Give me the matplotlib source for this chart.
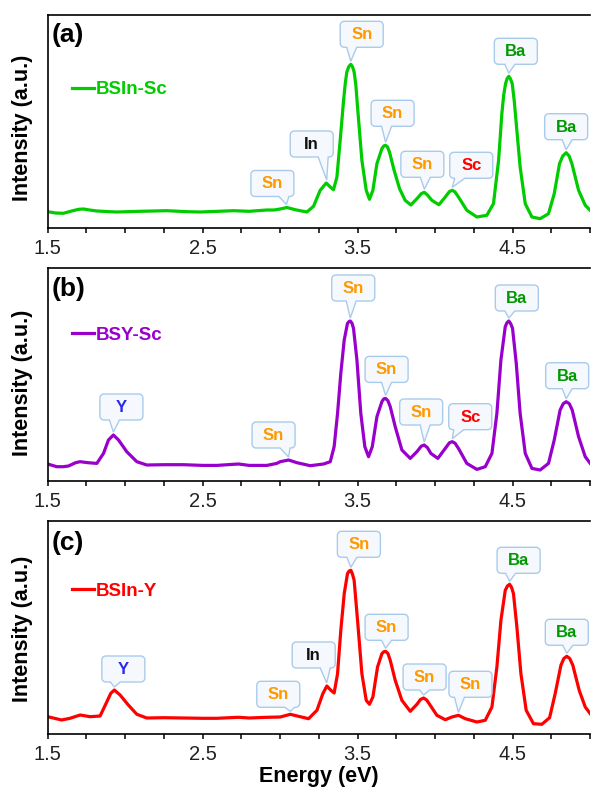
import numpy as np
import matplotlib
matplotlib.use("Agg")
import matplotlib.pyplot as plt
from matplotlib.patches import Polygon
from matplotlib.transforms import IdentityTransform
from matplotlib.ticker import MultipleLocator

plt.rcParams['font.family'] = ['Liberation Sans', 'DejaVu Sans']

# ---------------- data ----------------
energy_a = [1.500, 1.550, 1.601, 1.655, 1.700, 1.731, 1.770, 1.817, 1.900, 1.946, 2.100, 2.269, 2.400,
            2.484, 2.600, 2.699, 2.800, 2.914, 2.960, 3.000, 3.043, 3.097, 3.172, 3.215, 3.258, 3.297,
            3.323, 3.344, 3.366, 3.387, 3.409, 3.420, 3.430, 3.443, 3.456, 3.467, 3.477, 3.488, 3.499,
            3.527, 3.555, 3.576, 3.598, 3.624, 3.656, 3.668, 3.680, 3.692, 3.705, 3.735, 3.770, 3.806,
            3.843, 3.882, 3.910, 3.929, 3.950, 3.978, 4.024, 4.065, 4.092, 4.110, 4.128, 4.150, 4.204,
            4.269, 4.333, 4.376, 4.409, 4.430, 4.442, 4.454, 4.464, 4.475, 4.486, 4.497, 4.510, 4.523,
            4.548, 4.581, 4.624, 4.677, 4.731, 4.768, 4.802, 4.823, 4.845, 4.864, 4.882, 4.925, 4.968,
            5.000]
intensity_a = [16.3, 15.0, 14.7, 17.0, 18.7, 19.0, 18.0, 17.0, 16.3, 16.0, 16.7, 17.3, 16.3,
               16.0, 16.7, 17.3, 16.7, 18.0, 18.0, 19.0, 20.5, 18.3, 16.0, 21.7, 37.7, 45.0,
               41.0, 38.3, 51.0, 87.7, 127.7, 145.0, 156.0, 161.5, 163.7, 161.0, 156.0, 143.0, 121.0,
               67.7, 37.7, 28.7, 37.7, 64.3, 79.3, 82.0, 82.7, 81.0, 76.0, 57.7, 39.3, 27.7,
               23.0, 29.3, 34.3, 35.7, 33.0, 27.7, 23.3, 31.0, 36.5, 37.7, 36.0, 31.0, 17.7,
               11.0, 12.7, 24.3, 67.7, 114.3, 133.0, 144.3, 149.5, 151.7, 149.0, 144.3, 127.0, 104.3,
               61.0, 24.3, 11.0, 9.3, 14.3, 34.3, 64.3, 72.0, 75.3, 72.0, 64.3, 37.7, 22.7,
               17.7]

energy_b = [1.500, 1.558, 1.600, 1.634, 1.680, 1.709, 1.760, 1.817, 1.860, 1.892, 1.924, 1.957, 2.010,
            2.075, 2.139, 2.250, 2.376, 2.500, 2.591, 2.731, 2.800, 2.914, 2.978, 3.000, 3.054, 3.108,
            3.194, 3.280, 3.323, 3.348, 3.370, 3.391, 3.413, 3.434, 3.443, 3.452, 3.463, 3.473, 3.495,
            3.520, 3.546, 3.570, 3.594, 3.624, 3.656, 3.668, 3.680, 3.695, 3.710, 3.742, 3.785, 3.839,
            3.882, 3.910, 3.929, 3.950, 3.972, 4.017, 4.065, 4.092, 4.110, 4.128, 4.150, 4.204, 4.269,
            4.323, 4.366, 4.398, 4.424, 4.452, 4.463, 4.475, 4.487, 4.499, 4.523, 4.548, 4.581, 4.624,
            4.677, 4.731, 4.768, 4.806, 4.826, 4.845, 4.865, 4.884, 4.925, 4.968, 5.000]
intensity_b = [16.7, 14.0, 14.0, 14.7, 18.0, 19.0, 18.0, 17.3, 27.3, 40.7, 45.7, 40.7, 29.0,
               19.0, 15.7, 16.0, 16.0, 15.3, 15.3, 16.7, 15.3, 15.3, 17.3, 19.0, 20.7, 18.0,
               15.0, 16.7, 19.0, 34.0, 67.3, 107.3, 140.7, 157.3, 159.0, 159.7, 157.5, 152.3, 120.7,
               67.3, 34.0, 24.0, 34.0, 64.0, 79.0, 81.8, 82.3, 80.0, 74.0, 54.0, 30.7, 22.3,
               29.0, 34.5, 35.7, 33.0, 27.3, 22.3, 32.3, 38.0, 39.0, 37.5, 32.3, 17.3, 11.3,
               14.0, 27.3, 67.3, 120.7, 154.0, 158.0, 159.7, 157.0, 152.3, 117.3, 67.3, 27.3, 12.3,
               10.7, 17.3, 40.7, 70.7, 77.0, 79.0, 77.0, 70.7, 44.0, 24.0, 17.3]

energy_c = [1.500, 1.590, 1.644, 1.709, 1.774, 1.838, 1.877, 1.907, 1.930, 1.967, 2.020, 2.075, 2.139,
            2.250, 2.376, 2.500, 2.591, 2.731, 2.800, 2.914, 3.000, 3.065, 3.118, 3.183, 3.237, 3.275,
            3.301, 3.327, 3.348, 3.370, 3.391, 3.413, 3.434, 3.445, 3.456, 3.466, 3.477, 3.499, 3.527,
            3.555, 3.576, 3.598, 3.628, 3.656, 3.668, 3.680, 3.695, 3.710, 3.742, 3.785, 3.839, 3.882,
            3.905, 3.925, 3.945, 3.968, 4.011, 4.065, 4.108, 4.150, 4.194, 4.269, 4.323, 4.366, 4.398,
            4.424, 4.452, 4.466, 4.480, 4.493, 4.505, 4.527, 4.553, 4.587, 4.634, 4.688, 4.738, 4.774,
            4.811, 4.830, 4.849, 4.868, 4.888, 4.929, 4.968, 5.000]
intensity_c = [17.3, 14.0, 15.7, 19.0, 17.3, 18.0, 30.7, 40.7, 44.0, 39.0, 29.0, 19.7, 16.0,
               16.3, 16.0, 15.7, 15.7, 16.7, 16.0, 16.7, 17.0, 19.7, 17.7, 15.3, 23.7, 40.3,
               48.0, 43.7, 41.0, 60.3, 103.7, 140.3, 160.3, 163.0, 163.7, 160.0, 153.7, 113.7, 60.3,
               33.7, 29.7, 37.0, 67.0, 80.3, 82.2, 82.7, 80.5, 73.7, 53.7, 33.7, 22.7, 29.7,
               34.5, 36.0, 34.0, 28.7, 18.7, 14.3, 17.0, 18.7, 15.3, 12.0, 13.7, 27.0, 67.0,
               113.7, 143.7, 148.0, 149.7, 146.5, 140.3, 107.0, 60.3, 23.7, 10.3, 9.7, 16.3, 40.3,
               68.7, 75.5, 77.7, 75.5, 68.7, 43.7, 27.0, 20.3]

series_names = ["BSIn-Sc", "BSY-Sc", "BSIn-Y"]
panel_tags = ["(a)", "(b)", "(c)"]

peak_energy_a = [3.04, 3.30, 3.455, 3.68, 3.93, 4.11, 4.475, 4.845]
peak_label_a = ["Sn", "In", "Sn", "Sn", "Sn", "Sc", "Ba", "Ba"]
peak_energy_b = [1.924, 3.054, 3.452, 3.68, 3.929, 4.11, 4.475, 4.845]
peak_label_b = ["Y", "Sn", "Sn", "Sn", "Sn", "Sc", "Ba", "Ba"]
peak_energy_c = [1.93, 3.065, 3.30, 3.456, 3.68, 3.925, 4.15, 4.48, 4.849]
peak_label_c = ["Y", "Sn", "In", "Sn", "Sn", "Sn", "Sn", "Ba", "Ba"]

xtick_values = [1.5, 2.5, 3.5, 4.5]

# ---------------- styles / layout ----------------
line_colors = ["#00cc00", "#9900cc", "#ff0000"]
element_colors = {"Sn": "#ff9900", "In": "#111111", "Sc": "#ff0000", "Ba": "#009a00", "Y": "#2a2aee"}
# callout box offsets (pixels, relative to peak point)
box_offsets = [
    [(-14, 24), (-15, 39), (11, 30), (7, 32), (-2, 28), (19, 25), (7, 25), (0, 26)],
    [(8, 28), (-15, 25), (3, 33), (1, 29), (-3, 33), (18, 25), (8, 23), (1, 26)],
    [(9, 21), (-12, 20), (-13, 31), (8, 26), (1, 24), (1, 21), (12, 31), (9, 24), (0, 24)],
]
W, H = 591, 789
panel_bottom_px = [228, 480.7, 734]
panel_h_px = 213
left_px, right_px = 47.7, 590.2
legend_y = [0.65, 0.683, 0.67]
tag_y = [0.906, 0.90, 0.897]
ylabel_y = [0.472, 0.46, 0.495]

energies = [energy_a, energy_b, energy_c]
intensities = [intensity_a, intensity_b, intensity_c]
peak_energies = [peak_energy_a, peak_energy_b, peak_energy_c]
peak_labels = [peak_label_a, peak_label_b, peak_label_c]

fig = plt.figure(figsize=(W / 100, H / 100), dpi=100)


def bubble(ax, E, I, txt, color, dx, dy):
    px, py = ax.transData.transform((E, I))
    cx, cy = px + dx, py + dy
    w, h, r = 43, 26, 4
    L, R, B, T = cx - w / 2, cx + w / 2, cy - h / 2, cy + h / 2
    tx, ty = px, py + 3
    bx = min(max(tx + 1, L + r + 6), R - r - 6)
    hw = 5
    pts = [(L + r, B), (bx - hw, B), (tx, ty), (bx + hw, B), (R - r, B)]

    def arc(xc, yc, a0, a1):
        a = np.radians(np.linspace(a0, a1, 7))
        return [(xc + r * np.cos(t), yc + r * np.sin(t)) for t in a]
    pts += arc(R - r, B + r, -90, 0)
    pts += arc(R - r, T - r, 0, 90)
    pts += arc(L + r, T - r, 90, 180)
    pts += arc(L + r, B + r, 180, 270)
    poly = Polygon(pts, closed=True, transform=IdentityTransform(),
                   facecolor="#f5f9fd", edgecolor="#a9cbeb", linewidth=1.0, zorder=5)
    fig.add_artist(poly)
    fig.text(cx, cy - 0.5, txt, transform=IdentityTransform(), ha="center", va="center",
             fontsize=12, fontweight="bold", color=color, zorder=6)


axes = []
for i in range(3):
    bottom = 1 - panel_bottom_px[i] / H
    ax = fig.add_axes([left_px / W, bottom, (right_px - left_px) / W, panel_h_px / H])
    axes.append(ax)
    ax.plot(energies[i], intensities[i], color=line_colors[i], lw=2.3, label=series_names[i],
            solid_joinstyle="round")
    ax.set_xlim(1.5, 5.0)
    ax.set_ylim(0, 213)
    ax.set_yticks([])
    ax.set_xticks(xtick_values)
    ax.set_xticklabels([f"{v:.1f}" for v in xtick_values])
    ax.xaxis.set_minor_locator(MultipleLocator(0.25))
    ax.tick_params(axis="x", which="both", direction="out", length=3.6, width=1.1,
                   labelsize=14.5, labelcolor="#222222", pad=4.5)
    for s in ["left", "bottom", "top"]:
        ax.spines[s].set_linewidth(1.2)
        ax.spines[s].set_color("black")
    ax.spines["right"].set_visible(False)
    ax.set_ylabel("Intensity (a.u.)", fontsize=15.5, fontweight="bold")
    ax.yaxis.set_label_coords(-0.0265, ylabel_y[i])
    ax.text(0.008, tag_y[i], panel_tags[i], transform=ax.transAxes, fontsize=19,
            fontweight="bold", ha="left", va="center")
    ax.legend(loc="center left", bbox_to_anchor=(0.044, legend_y[i]), frameon=False,
              prop={"weight": "bold", "size": 13.5}, handlelength=1.2, handletextpad=0.1,
              borderpad=0, borderaxespad=0, labelcolor="linecolor")

axes[2].set_xlabel("Energy (eV)", fontsize=15.5, fontweight="bold", labelpad=1.5)

for i, ax in enumerate(axes):
    E = np.array(energies[i]); Iv = np.array(intensities[i])
    for j, (pe, lab) in enumerate(zip(peak_energies[i], peak_labels[i])):
        m = np.abs(E - pe) <= 0.03
        Ipk = Iv[m].max() if m.any() else np.interp(pe, E, Iv)
        dx, dy = box_offsets[i][j]
        bubble(ax, pe, Ipk, lab, element_colors[lab], dx, dy)

fig.savefig("out.png", dpi=100)
